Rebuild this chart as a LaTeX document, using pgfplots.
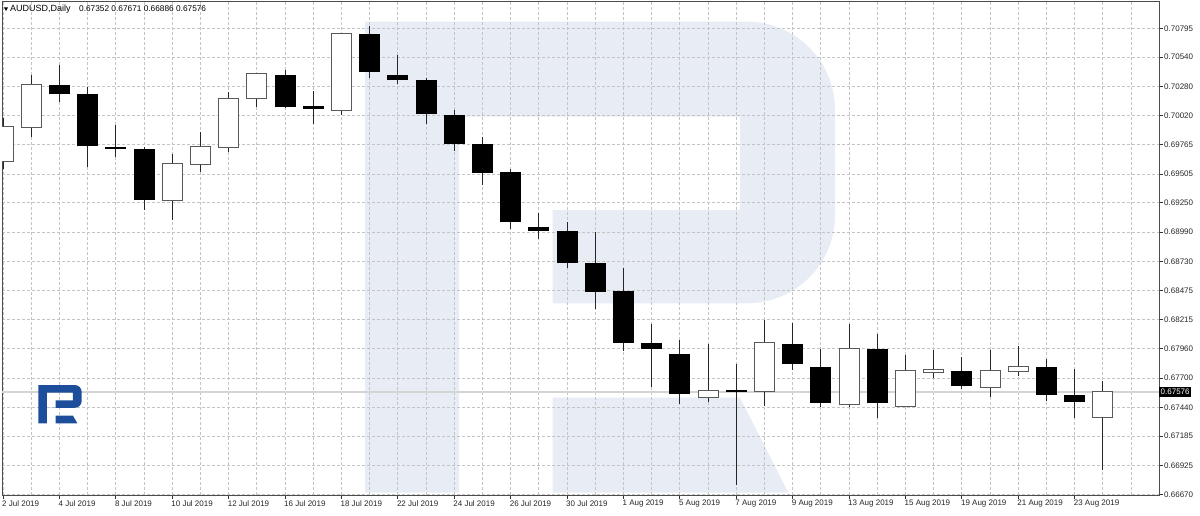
\documentclass[border=0pt]{standalone}
\usepackage{pgfplots}
\pgfplotsset{compat=1.18}
\usepackage{pgfplotstable}
\usepackage{fontspec}
\setmainfont{Liberation Sans}
\definecolor{wm}{RGB}{231,236,245}
\definecolor{logo}{RGB}{28,78,155}
\definecolor{gridc}{RGB}{196,196,196}
\definecolor{pricec}{RGB}{212,212,212}

\pgfplotstableread{
i O H L C
0 0.69623 0.69998 0.69547 0.69924
1 0.69924 0.70382 0.69835 0.70293
2 0.70293 0.70470 0.70145 0.70213
3 0.70211 0.70278 0.69565 0.69753
4 0.69747 0.69939 0.69658 0.69724
5 0.69727 0.69747 0.69187 0.69275
6 0.69275 0.69680 0.69098 0.69591
7 0.69591 0.69874 0.69526 0.69747
8 0.69747 0.70234 0.69697 0.70169
9 0.70175 0.70395 0.70101 0.70388
10 0.70382 0.70426 0.70090 0.70096
11 0.70105 0.70240 0.69948 0.70078
12 0.70074 0.70756 0.70028 0.70742
13 0.70742 0.70815 0.70358 0.70408
14 0.70382 0.70559 0.70302 0.70337
15 0.70337 0.70355 0.69945 0.70034
16 0.70025 0.70072 0.69712 0.69768
17 0.69773 0.69835 0.69408 0.69517
18 0.69523 0.69547 0.69018 0.69078
19 0.69039 0.69157 0.68930 0.69003
20 0.69001 0.69080 0.68676 0.68715
21 0.68720 0.68989 0.68308 0.68463
22 0.68472 0.68676 0.67941 0.68012
23 0.68007 0.68178 0.67622 0.67959
24 0.67912 0.68033 0.67469 0.67558
25 0.67529 0.68000 0.67490 0.67582
26 0.67593 0.67823 0.66752 0.67573
27 0.67584 0.68213 0.67452 0.68007
28 0.68000 0.68189 0.67770 0.67823
29 0.67797 0.67956 0.67440 0.67481
30 0.67467 0.68178 0.67440 0.67954
31 0.67954 0.68089 0.67348 0.67476
32 0.67452 0.67903 0.67445 0.67764
33 0.67750 0.67947 0.67697 0.67768
34 0.67759 0.67883 0.67605 0.67629
35 0.67617 0.67947 0.67534 0.67764
36 0.67759 0.67983 0.67720 0.67794
37 0.67797 0.67865 0.67499 0.67552
38 0.67546 0.67777 0.67348 0.67484
39 0.67352 0.67671 0.66886 0.67576
}\ohlc

\newcommand\Rshape[1]{%
 (0,471) -- (0,0) -- (200,0) [rounded corners=#1] -- (470,0) -- (470,281.6) -- (200,281.6) [sharp corners] -- (187.7,281.6) -- (187.7,188.3) -- (375,188.3) -- (375,95) -- (94,95) -- (94,471) -- cycle
 (187.7,376) -- (375,376) -- (423.3,471) -- (187.7,471) -- cycle}

\begin{document}
\begin{tikzpicture}[x=1pt,y=1pt]
\useasboundingbox (-2,-20) rectangle (1198,495);
% background watermark
\fill[wm, shift={(363,473.3)}, yscale=-1] \Rshape{88pt};

\begin{axis}[
  at={(0,0)}, anchor=south west,
  scale only axis, width=1157pt, height=494pt,
  xmin=-0.0355, xmax=40.99, ymin=0.66664, ymax=0.71037,
  clip mode=individual,
  axis line style={black!70, line width=0.9pt},
  xtick={0,2,...,38},
  xticklabels={2 Jul 2019,4 Jul 2019,8 Jul 2019,10 Jul 2019,12 Jul 2019,16 Jul 2019,18 Jul 2019,22 Jul 2019,24 Jul 2019,26 Jul 2019,30 Jul 2019,1 Aug 2019,5 Aug 2019,7 Aug 2019,9 Aug 2019,13 Aug 2019,15 Aug 2019,19 Aug 2019,21 Aug 2019,23 Aug 2019},
  minor xtick={1,3,...,39,40},
  xmajorgrids, xminorgrids, ymajorgrids,
  major grid style={gridc, line width=0.8pt, dash pattern=on 3pt off 2pt},
  minor grid style={gridc, line width=0.8pt, dash pattern=on 3pt off 2pt},
  ytick={0.70795,0.70540,0.70280,0.70020,0.69765,0.69505,0.69250,0.68990,0.68730,0.68475,0.68215,0.67960,0.67700,0.67440,0.67185,0.66925,0.66670},
  yticklabels={0.70795,0.70540,0.70280,0.70020,0.69765,0.69505,0.69250,0.68990,0.68730,0.68475,0.68215,0.67960,0.67700,0.67440,0.67185,0.66925,0.66670},
  xtick pos=bottom, ytick pos=right, yticklabel pos=right,
  tick align=outside, major tick length=4pt, minor tick length=0pt,
  tick style={black!80, line width=0.8pt},
  ticklabel style={font=\fontsize{8}{9}\selectfont, text=black!85},
  yticklabel style={anchor=west, inner sep=0pt, xshift=1pt},
  xticklabel style={anchor=north west, inner sep=0pt, xshift=-1pt, yshift=-1pt},
]
% last price line
\addplot[pricec, line width=1.2pt, forget plot] coordinates {(-1,0.67576) (42,0.67576)};
% wicks
\addplot[draw=none, mark=none, forget plot,
  error bars/.cd, y dir=plus, y explicit, error mark=none,
  error bar style={draw=black!85, line width=1pt}]
  table[x=i, y=L, y error plus expr=\thisrow{H}-\thisrow{L}] {\ohlc};
% bearish bodies
\addplot[draw=none, mark=none, forget plot,
  restrict expr to domain={\thisrow{O}-\thisrow{C}}{0:1},
  error bars/.cd, y dir=plus, y explicit, error mark=none,
  error bar style={draw=black, line width=21pt}]
  table[x=i, y=C, y error plus expr=\thisrow{O}-\thisrow{C}] {\ohlc};
% bullish bodies: outline
\addplot[draw=none, mark=none, forget plot,
  restrict expr to domain={\thisrow{C}-\thisrow{O}}{0:1},
  error bars/.cd, y dir=plus, y explicit, error mark=none,
  error bar style={draw=black!65, line width=21pt}]
  table[x=i, y expr=\thisrow{O}-0.0000885, y error plus expr=\thisrow{C}-\thisrow{O}+0.000177] {\ohlc};
% bullish bodies: fill
\addplot[draw=none, mark=none, forget plot,
  restrict expr to domain={\thisrow{C}-\thisrow{O}}{0:1},
  error bars/.cd, y dir=plus, y explicit, error mark=none,
  error bar style={draw=white, line width=19pt}]
  table[x=i, y=O, y error plus expr=\thisrow{C}-\thisrow{O}] {\ohlc};
% price label
\node[fill=black, text=white, anchor=west, inner xsep=1.5pt, inner ysep=1.8pt,
  font=\fontsize{8}{9}\selectfont] at (axis cs:40.99,0.67576) {0.67576};
\end{axis}

% small logo
\fill[logo, shift={(36.3,110)}, xscale=0.0923, yscale=-0.0813] \Rshape{7pt};
% header
\fill[black] (2,487.5) -- (6,487.5) -- (4,484) -- cycle;
\node[anchor=base west, inner sep=0pt, font=\fontsize{9}{10}\selectfont] at (8,483) {AUDUSD,Daily};
\node[anchor=base west, inner sep=0pt, font=\fontsize{8.3}{10}\selectfont] at (77,483) {0.67352 0.67671 0.66886 0.67576};
\end{tikzpicture}
\end{document}
